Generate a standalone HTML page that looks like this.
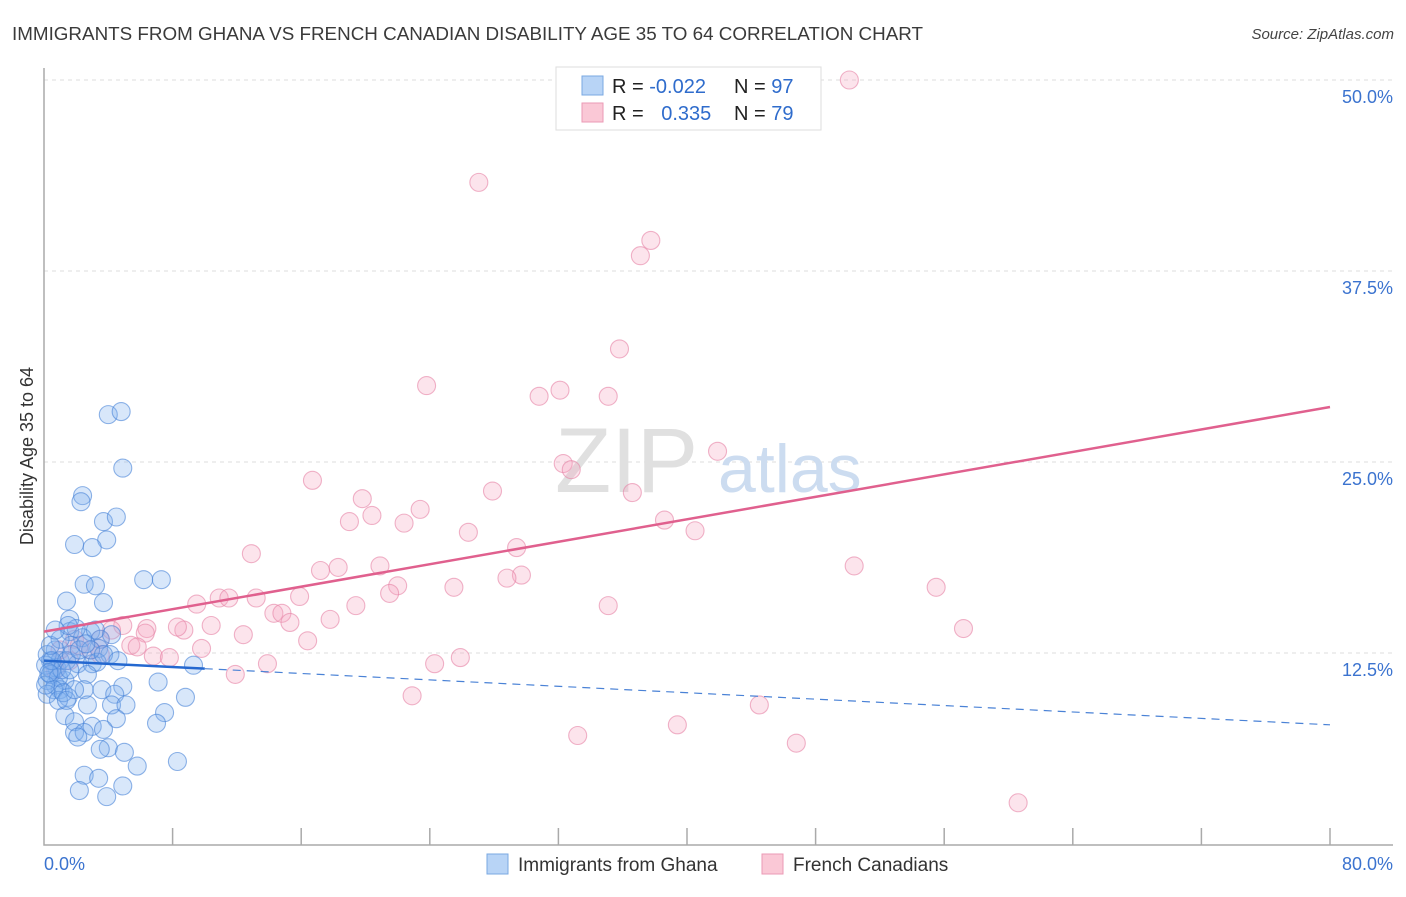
<!DOCTYPE html>
<html><head><meta charset="utf-8"><style>
body{margin:0;background:#fff;font-family:"Liberation Sans",sans-serif;}
svg text{font-family:"Liberation Sans",sans-serif;}
</style></head><body>
<svg id="chart" width="1406" height="892" xmlns="http://www.w3.org/2000/svg">
<text x="12" y="40" font-size="18" fill="#3a3a3a" textLength="911" lengthAdjust="spacingAndGlyphs">IMMIGRANTS FROM GHANA VS FRENCH CANADIAN DISABILITY AGE 35 TO 64 CORRELATION CHART</text>
<text x="1394" y="39" font-size="15" fill="#444" font-style="italic" text-anchor="end">Source: ZipAtlas.com</text>
<text transform="translate(33,456) rotate(-90)" font-size="18" fill="#333" text-anchor="middle">Disability Age 35 to 64</text>
<g id="grid"></g>
<g>
<text x="555" y="492" font-size="92" fill="#e0e0e0" font-family="Liberation Serif,serif">ZIP</text>
<text x="718" y="492" font-size="68" fill="#ccdcf0">atlas</text>
</g>
<g id="axes"></g>
<g id="pts"></g>
<g id="trends"></g>
<g>
<rect x="556" y="67" width="265" height="63" fill="#fff" stroke="#ddd"/>
<rect x="582" y="76" width="21" height="19" fill="#b8d4f6" stroke="#7aa8e2"/>
<rect x="582" y="103" width="21" height="19" fill="#fac8d6" stroke="#eb9ab5"/>
<text x="612" y="93" font-size="20" fill="#222">R = <tspan fill="#2f6ccc">-0.022</tspan></text>
<text x="734" y="93" font-size="20" fill="#222">N = <tspan fill="#2f6ccc">97</tspan></text>
<text x="612" y="120" font-size="20" fill="#222">R = <tspan fill="#2f6ccc" dx="12">0.335</tspan></text>
<text x="734" y="120" font-size="20" fill="#222">N = <tspan fill="#2f6ccc">79</tspan></text>
</g>
<g>
<rect x="487" y="854" width="21" height="20" fill="#b8d4f6" stroke="#7aa8e2"/>
<text x="518" y="871" font-size="19" fill="#333">Immigrants from Ghana</text>
<rect x="762" y="854" width="21" height="20" fill="#fac8d6" stroke="#eb9ab5"/>
<text x="793" y="871" font-size="19" fill="#333">French Canadians</text>
</g>
</svg>
<script>
const yTicks=[12.5,25,37.5,50];
const yTickLabels=["12.5%","25.0%","37.5%","50.0%"];
const xTickLabels=["0.0%","80.0%"];
const blueX=[4.0,4.8,4.9,2.4,2.3,3.7,4.5,1.9,3.9,3.0,6.2,7.3,2.5,3.2,1.4,3.7,1.6,1.6,2.9,2.4,3.5,1.7,3.4,4.1,2.1,3.0,3.3,9.3,0.8,2.7,1.3,0.7,1.0,2.5,3.6,4.9,7.1,8.8,1.5,4.4,4.2,5.1,2.7,1.3,7.5,4.5,1.9,3.0,3.7,7.0,1.9,2.5,2.1,4.0,3.5,5.0,5.8,8.3,2.5,3.4,4.9,2.2,3.9,0.4,0.5,0.2,0.7,1.0,0.1,0.4,0.9,1.1,0.2,0.6,1.4,1.6,1.7,2.2,0.2,0.9,1.2,1.4,0.1,0.5,1.9,2.9,2.0,3.2,2.6,1.0,0.4,1.5,3.7,4.6,4.2,0.7,0.3];
const blueY=[28.1,28.3,24.6,22.8,22.4,21.1,21.4,19.6,19.9,19.4,17.3,17.3,17.0,16.9,15.9,15.8,14.7,13.9,13.9,13.5,13.4,13.0,12.8,12.4,11.8,11.8,11.9,11.7,11.5,11.1,10.7,10.4,10.1,10.1,10.1,10.3,10.6,9.6,9.6,9.8,9.1,9.1,9.1,8.4,8.6,8.2,8.0,7.7,7.5,7.9,7.3,7.3,7.0,6.3,6.2,6.0,5.1,5.4,4.5,4.3,3.8,3.5,3.1,12.0,11.4,10.7,12.7,12.0,11.7,11.1,10.9,11.4,12.4,10.1,12.0,11.4,12.4,12.7,9.8,9.4,9.9,9.4,10.4,12.0,10.1,12.7,14.1,14.0,13.1,13.4,13.0,14.3,12.4,12.0,13.7,14.0,11.2];
const pinkX=[50.1,27.05,37.75,37.1,35.8,23.8,32.1,30.8,35.1,41.9,32.3,32.8,27.9,36.6,16.7,19.8,20.4,23.4,19.0,22.4,26.4,38.6,40.5,29.4,12.9,50.4,29.7,28.8,20.9,18.3,17.2,22.0,25.5,21.5,55.5,15.9,19.4,9.5,10.9,11.5,13.2,35.1,14.3,14.8,15.3,17.8,10.4,12.4,8.7,6.4,4.9,4.2,6.3,8.3,16.4,9.8,5.4,5.8,57.2,6.8,7.8,13.9,11.9,24.3,25.9,22.9,44.5,39.4,33.2,46.8,60.6,3.5,2.9,1.6,1.0,1.9,3.5,0.7,2.2];
const pinkY=[50.0,43.3,39.5,38.5,32.4,30.0,29.7,29.3,29.3,25.7,24.9,24.5,23.1,23.0,23.8,22.6,21.5,21.9,21.1,21.0,20.4,21.2,20.5,19.4,19.0,18.2,17.6,17.4,18.2,18.1,17.9,16.9,16.8,16.4,16.8,16.2,15.6,15.7,16.1,16.1,16.1,15.6,15.1,15.1,14.5,14.7,14.3,13.7,14.0,14.1,14.3,14.0,13.8,14.2,13.3,12.8,13.0,12.9,14.1,12.3,12.2,11.8,11.1,11.8,12.2,9.7,9.1,7.8,7.1,6.6,2.7,13.4,12.7,12.0,12.7,13.4,12.4,11.4,13.0];
const blueTrend=[12.0,7.8];
const pinkTrend=[13.9,28.6];
const NS="http://www.w3.org/2000/svg";
const X=v=>44+v*16.075, Y=v=>844-v*15.28;
function mk(tag,at,parent){const e=document.createElementNS(NS,tag);for(const k in at)e.setAttribute(k,at[k]);parent.appendChild(e);return e;}
const grid=document.getElementById('grid'),axes=document.getElementById('axes'),pts=document.getElementById('pts'),tr=document.getElementById('trends');
yTicks.forEach((t,i)=>{
 const l=mk('line',{x1:44,x2:1393,y1:Y(t),y2:Y(t),stroke:'#ddd','stroke-dasharray':'4,4'},grid);
 
 
 const tx=mk('text',{x:1393,y:Y(t)+23,'font-size':18,fill:'#3b73cf','text-anchor':'end'},axes);
 tx.textContent=yTickLabels[i];
 
 
});
const ax=mk('path',{d:'M44 68 V845 H1393',fill:'none',stroke:'#aaa','stroke-width':1.5},axes);


for(let i=1;i<=10;i++){const t=mk('line',{x1:X(i*8),x2:X(i*8),y1:828,y2:845,stroke:'#aaa','stroke-width':1.5},axes);
 
 }
[[0,'start',44],[80,'end',1393]].forEach((d,i)=>{const t=mk('text',{x:d[2],y:870,'font-size':18,fill:'#3b73cf','text-anchor':d[1]},axes);t.textContent=xTickLabels[i];
 
 });
function dots(xs,ys,fill,stroke,name){xs.forEach((x,i)=>{const c=mk('circle',{cx:X(x),cy:Y(ys[i]),r:9,fill:fill,stroke:stroke,'stroke-width':1.1},pts);
 
 });}
dots(pinkX,pinkY,'rgba(244,165,192,0.3)','rgba(230,130,165,0.6)','french-canadian-point');
dots(blueX,blueY,'rgba(125,175,238,0.3)','rgba(70,130,215,0.6)','ghana-point');
const by=v=>blueTrend[0]+(blueTrend[1]-blueTrend[0])*v/80;
let l1=mk('line',{x1:X(0),y1:Y(by(0)),x2:X(10),y2:Y(by(10)),stroke:'#2468d0','stroke-width':2.5},tr);


let l2=mk('line',{x1:X(10),y1:Y(by(10)),x2:X(80),y2:Y(by(80)),stroke:'#4a82d6','stroke-width':1.2,'stroke-dasharray':'8,6'},tr);


let l3=mk('line',{x1:X(0),y1:Y(pinkTrend[0]),x2:X(80),y2:Y(pinkTrend[1]),stroke:'#e0608e','stroke-width':2.5},tr);


</script>
</body></html>
